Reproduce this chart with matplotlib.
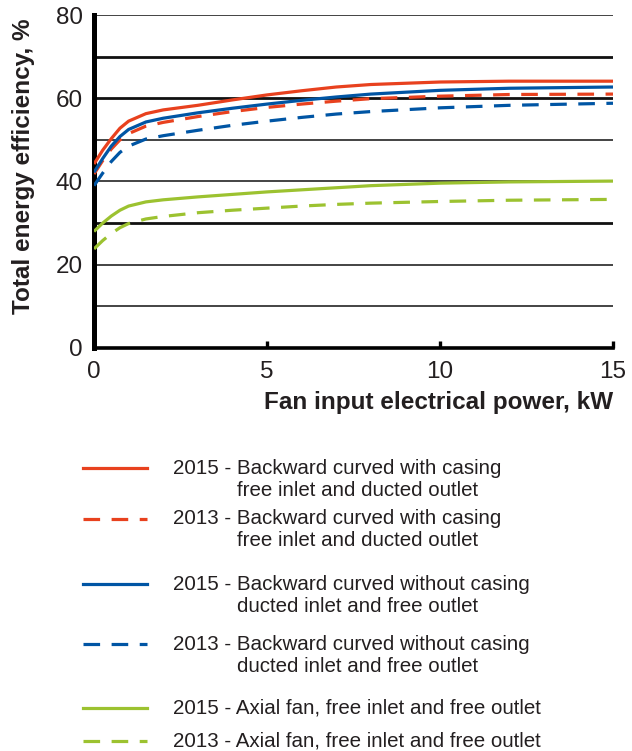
import matplotlib.pyplot as plt
from matplotlib.lines import Line2D

plt.rcParams['font.family'] = ['Liberation Sans', 'DejaVu Sans']

# fan input electrical power, kW
power = [0, 0.25, 0.5, 0.75, 1, 1.5, 2, 3, 4, 5, 6, 7, 8, 10, 12, 15]

# total energy efficiency, %
bc_casing_2015 = [44.2, 47.5, 50.3, 52.8, 54.5, 56.3, 57.2, 58.3, 59.6, 60.8, 61.8, 62.7, 63.3, 63.9, 64.1, 64.1]
bc_casing_2013 = [41.8, 45.0, 47.8, 50.0, 51.5, 53.3, 54.2, 55.6, 56.8, 57.8, 58.6, 59.3, 59.9, 60.5, 60.9, 61.0]
bc_nocasing_2015 = [42.2, 45.5, 48.5, 50.8, 52.5, 54.3, 55.2, 56.5, 57.6, 58.6, 59.5, 60.3, 61.0, 61.9, 62.4, 62.7]
bc_nocasing_2013 = [39.0, 42.0, 44.8, 47.0, 48.5, 50.2, 51.0, 52.3, 53.5, 54.5, 55.4, 56.2, 56.8, 57.7, 58.3, 58.8]
axial_2015 = [28.0, 30.0, 31.7, 33.1, 34.1, 35.1, 35.6, 36.3, 36.9, 37.5, 38.0, 38.5, 39.0, 39.6, 39.9, 40.1]
axial_2013 = [23.8, 25.8, 27.5, 28.9, 29.9, 31.0, 31.6, 32.5, 33.1, 33.6, 34.1, 34.5, 34.8, 35.2, 35.5, 35.7]

labels = [
    ("2015 - Backward curved with casing", "free inlet and ducted outlet"),
    ("2013 - Backward curved with casing", "free inlet and ducted outlet"),
    ("2015 - Backward curved without casing", "ducted inlet and free outlet"),
    ("2013 - Backward curved without casing", "ducted inlet and free outlet"),
    ("2015 - Axial fan, free inlet and free outlet", None),
    ("2013 - Axial fan, free inlet and free outlet", None),
]

red = "#E8411E"
blue = "#0055A4"
green = "#9CC230"
dash = (5.2, 3.6)

series = [
    (bc_casing_2015, red, "-"),
    (bc_casing_2013, red, "--"),
    (bc_nocasing_2015, blue, "-"),
    (bc_nocasing_2013, blue, "--"),
    (axial_2015, green, "-"),
    (axial_2013, green, "--"),
]

W, H = 632, 751
fig = plt.figure(figsize=(W / 100, H / 100), dpi=100)
ax = fig.add_axes([94 / W, 1 - 348 / H, (613 - 94) / W, (348 - 15) / H])

# horizontal grid lines, some drawn heavier as in the original
for g, lw in zip([10, 20, 30, 40, 50, 60, 70, 80], [1.1, 1.1, 2.0, 1.1, 1.1, 2.0, 2.0, 1.1]):
    ax.axhline(g, color="#111111", lw=lw, zorder=1)

for ys, c, ls in series:
    line, = ax.plot(power, ys, color=c, lw=2.3, zorder=3, solid_capstyle="butt")
    if ls == "--":
        line.set_dashes(dash)

ax.set_xlim(0, 15)
ax.set_ylim(0, 80)
ax.set_xticks([0, 5, 10, 15])
ax.set_yticks([0, 20, 40, 60, 80])
for s in ["top", "right"]:
    ax.spines[s].set_visible(False)
ax.spines["left"].set_linewidth(3.6)
ax.spines["bottom"].set_linewidth(2.6)
ax.tick_params(axis="x", direction="in", length=5, width=2.4, pad=9,
               labelsize=17.5, labelcolor="#231F20")
ax.tick_params(axis="y", length=0, pad=8, labelsize=17.5, labelcolor="#231F20")

ax.set_xlabel("Fan input electrical power, kW", fontsize=17.5, fontweight="bold",
              color="#231F20")
ax.xaxis.set_label_coords(1.0, -0.128)
ax.xaxis.label.set_horizontalalignment("right")
ax.set_ylabel("Total energy efficiency, %", fontsize=17.5, fontweight="bold",
              color="#231F20")
ax.yaxis.set_label_coords(-0.114, 0.547)

# legend drawn by hand below the plot
line_y = [468, 519, 584, 644, 708, 741]
for (ys, c, ls), (l1, l2), y in zip(series, labels, line_y):
    yf = 1 - y / H
    ln = Line2D([83 / W, 147 / W], [yf, yf], color=c, lw=2.3, transform=fig.transFigure)
    if ls == "--":
        ln.set_dashes(dash)
    fig.add_artist(ln)
    fig.text(173 / W, yf, l1, fontsize=14.8, color="#231F20", va="center")
    if l2:
        fig.text(237 / W, 1 - (y + 22) / H, l2, fontsize=14.8, color="#231F20", va="center")

fig.savefig("out.png", dpi=100)
